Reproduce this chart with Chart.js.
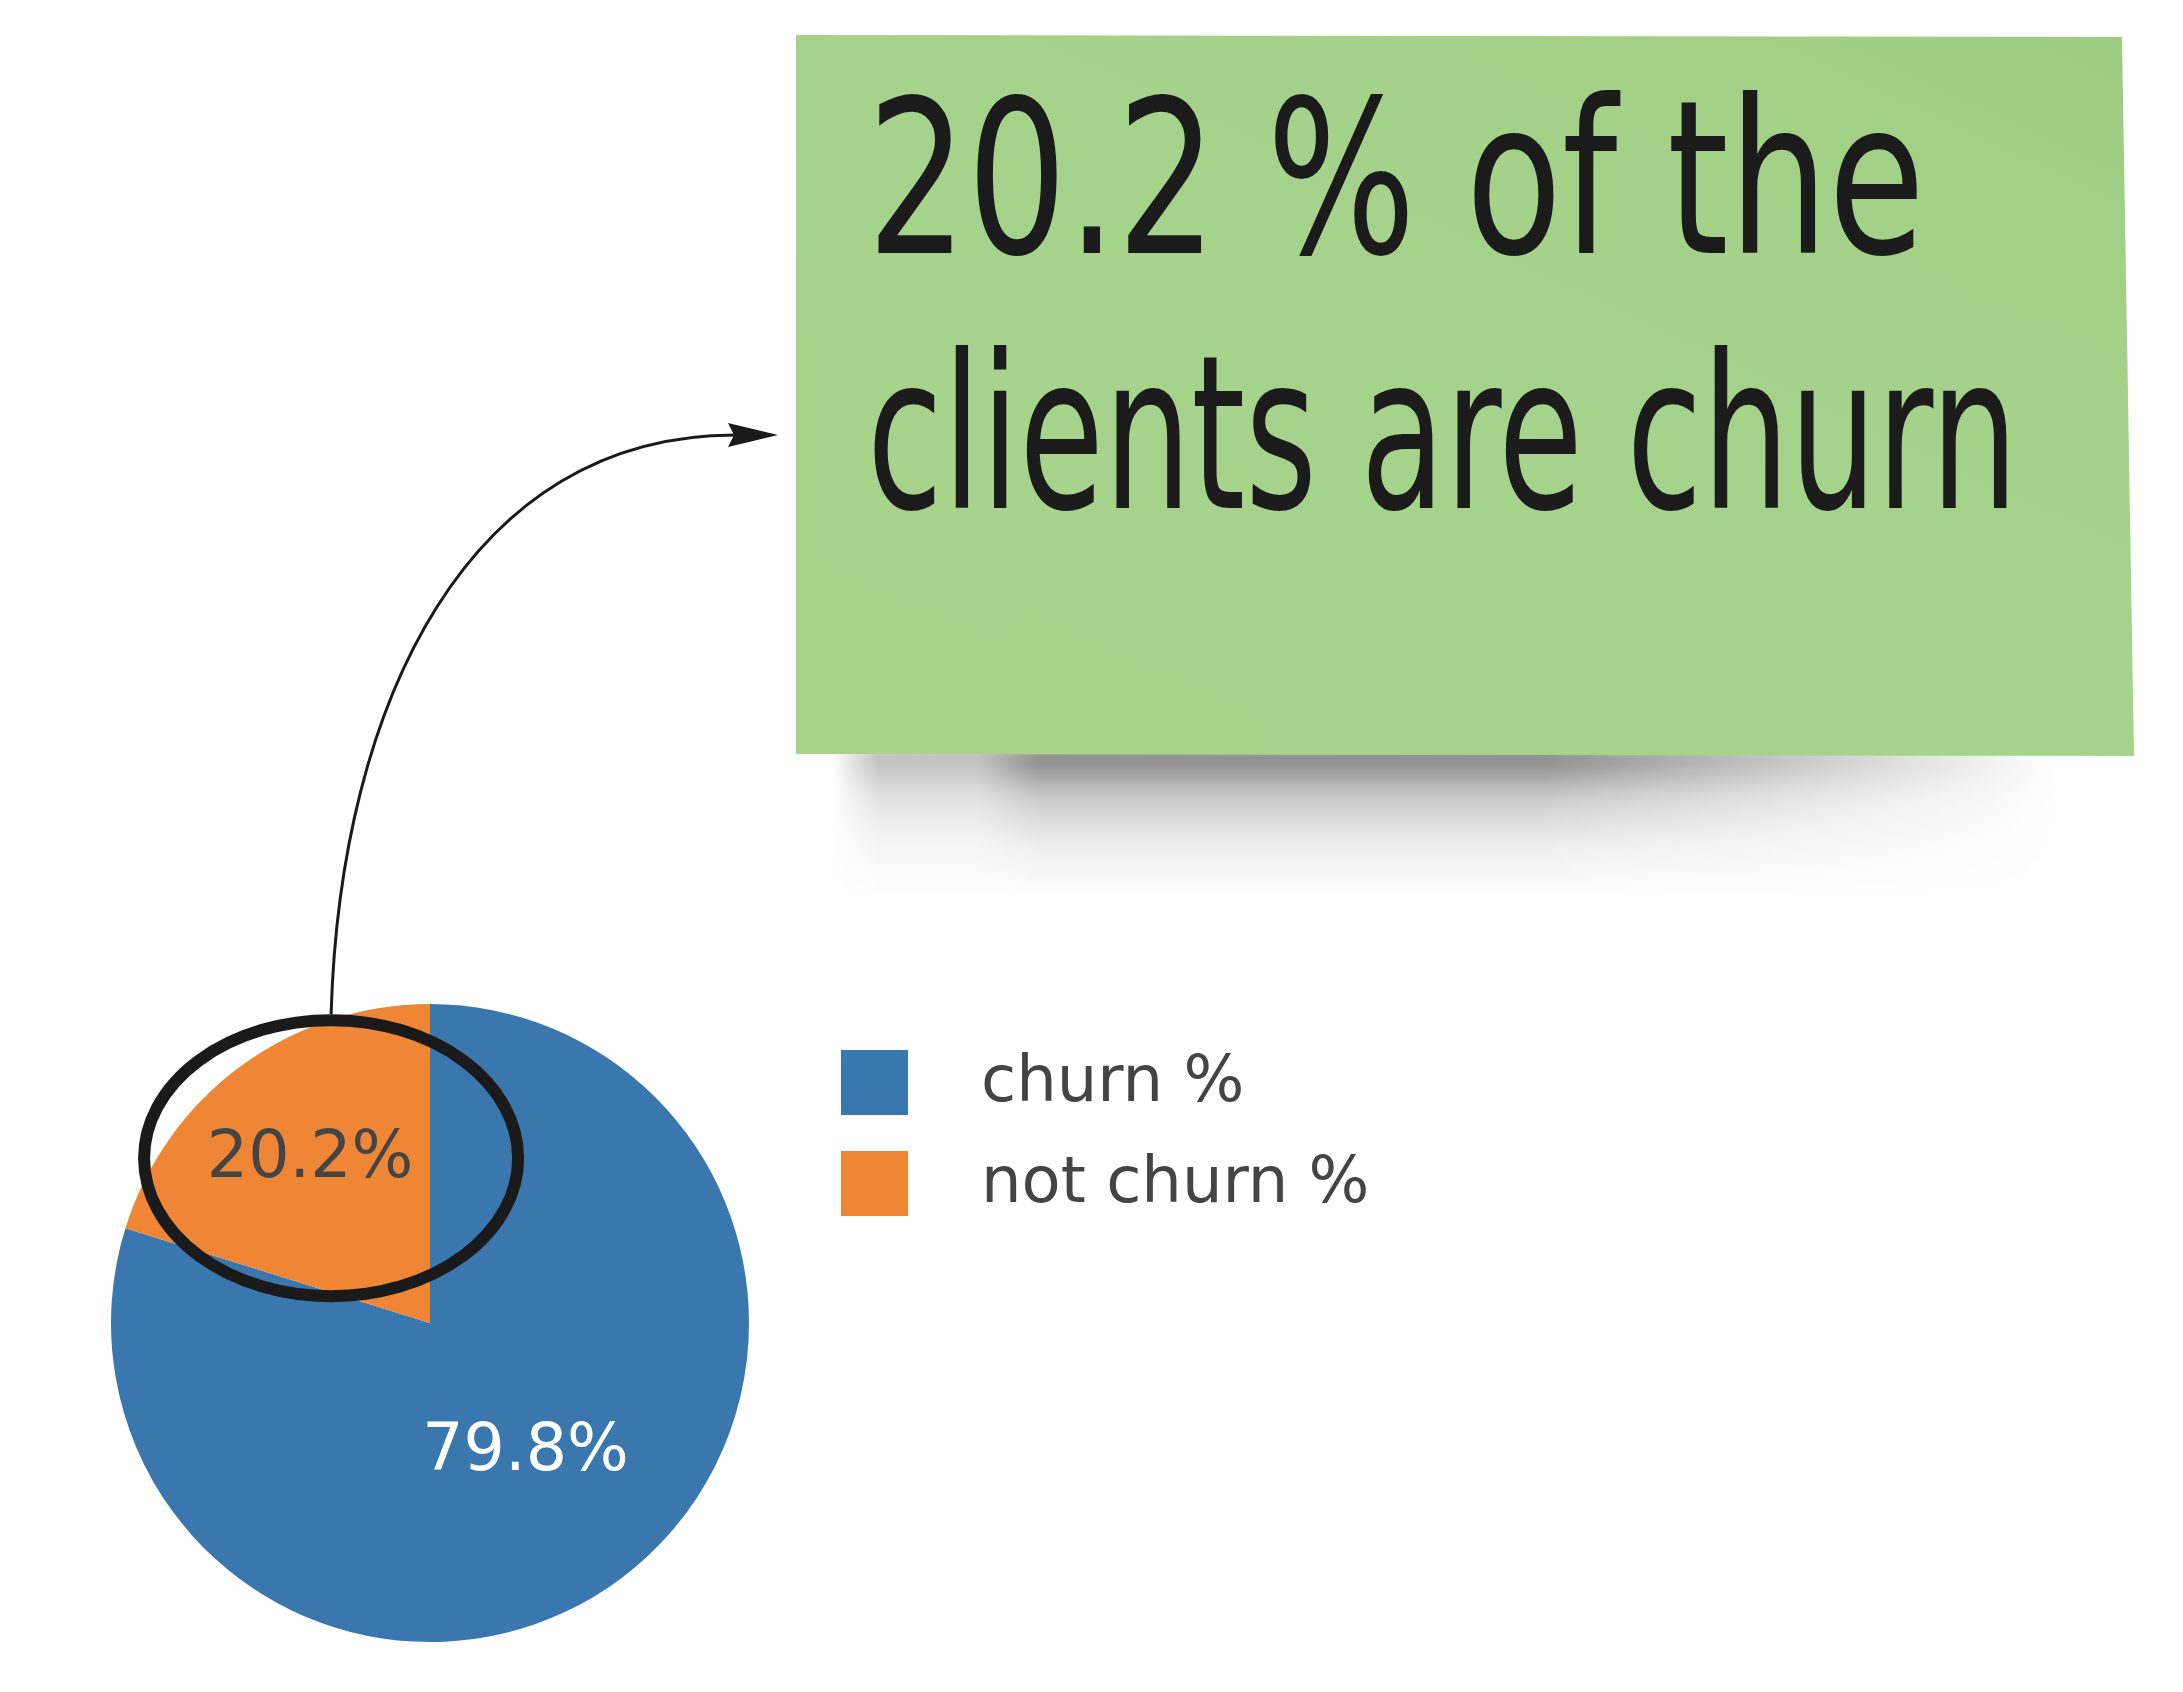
<!DOCTYPE html>
<html>
<head>
<meta charset="utf-8">
<script src="https://cdn.jsdelivr.net/npm/chart.js@4.4.1/dist/chart.umd.min.js"></script>
<style>
  html, body { margin: 0; padding: 0; background: #fff; }
  body { width: 2183px; height: 1692px; position: relative; overflow: hidden; }
  #pie { position: absolute; left: 0; top: 0; z-index: 1; }
  .shadow { position: absolute; z-index: 2; pointer-events: none;
    left: 830px; top: 745px; width: 1230px; height: 150px;
    background: linear-gradient(to bottom, rgba(0,0,0,0.5) 0%, rgba(0,0,0,0.42) 14%,
      rgba(0,0,0,0.2) 35%, rgba(0,0,0,0.07) 65%, rgba(0,0,0,0) 100%);
    -webkit-mask-image: linear-gradient(to right, rgba(0,0,0,0) 0%, rgba(0,0,0,0.55) 4%,
      rgba(0,0,0,0.55) 12%, #000 17%, #000 58%, rgba(0,0,0,0.45) 80%, rgba(0,0,0,0) 100%);
    mask-image: linear-gradient(to right, rgba(0,0,0,0) 0%, rgba(0,0,0,0.55) 4%,
      rgba(0,0,0,0.55) 12%, #000 17%, #000 58%, rgba(0,0,0,0.45) 80%, rgba(0,0,0,0) 100%);
    filter: blur(8px); }
  .note { position: absolute; z-index: 3; left: 796px; top: 35px; width: 1338px; height: 721px;
    background: linear-gradient(205deg, #9dcb81 0%, #a3d087 15%, #a6d38b 45%, #a7d38b 100%);
    clip-path: polygon(0 0, 1326px 2px, 1338px 721px, 0 719px); }
  #noteText { position: absolute; z-index: 4; left: 0; top: 0; pointer-events: none; }
</style>
</head>
<body>
<canvas id="pie" width="2183" height="1692"></canvas>
<div class="shadow"></div>
<div class="note"></div>
<svg id="noteText" width="2183" height="1692">
  <text x="867" y="253" textLength="1058" lengthAdjust="spacingAndGlyphs"
        font-family="'Liberation Sans Narrow', 'DejaVu Sans Condensed', sans-serif"
        font-size="214" fill="#1b1b1b">20.2 % of the</text>
  <text x="867" y="508" textLength="1151" lengthAdjust="spacingAndGlyphs"
        font-family="'Liberation Sans Narrow', 'DejaVu Sans Condensed', sans-serif"
        font-size="214" fill="#1b1b1b">clients are churn</text>
</svg>
<script>
// pie values (share of clients, %)
const labels = ["churn %", "not churn %"];
const shares = [79.8, 20.2];
const sliceColors = ["#3a77af", "#ef8636"];
const textColors = ["#ffffff", "#444444"];
const labelRadius = [0.505, 0.634];

// percent text inside each slice
const sliceLabels = {
  id: "sliceLabels",
  afterDatasetsDraw(chart) {
    const ctx = chart.ctx;
    const arcs = chart.getDatasetMeta(0).data;
    ctx.save();
    ctx.font = "65px 'DejaVu Sans'";
    ctx.textAlign = "center";
    ctx.textBaseline = "middle";
    arcs.forEach((arc, i) => {
      const { x, y, startAngle, endAngle, outerRadius } = arc.getProps(
        ["x", "y", "startAngle", "endAngle", "outerRadius"], true);
      const mid = (startAngle + endAngle) / 2;
      const r = outerRadius * labelRadius[i];
      ctx.fillStyle = textColors[i];
      ctx.fillText(shares[i].toFixed(1) + "%", x + Math.cos(mid) * r, y + Math.sin(mid) * r);
    });
    ctx.restore();
  },
};

// plotly-like legend to the right of the pie
const sideLegend = {
  id: "sideLegend",
  afterDraw(chart) {
    const ctx = chart.ctx;
    const colors = chart.data.datasets[0].backgroundColor;
    ctx.save();
    ctx.font = "64px 'DejaVu Sans'";
    ctx.textBaseline = "middle";
    chart.data.labels.forEach((lab, i) => {
      const top = 1050 + i * 101;
      ctx.fillStyle = colors[i];
      ctx.fillRect(841, top, 67, 65);
      ctx.fillStyle = "#444444";
      ctx.fillText(lab, 981, top + 34);
    });
    ctx.restore();
  },
};

// hand-drawn ellipse round the small slice and the arrow to the note
const callout = {
  id: "callout",
  afterDraw(chart) {
    const ctx = chart.ctx;
    const arc = chart.getDatasetMeta(0).data[1];
    const { x, y, startAngle, endAngle, outerRadius } = arc.getProps(
      ["x", "y", "startAngle", "endAngle", "outerRadius"], true);
    const mid = (startAngle + endAngle) / 2;
    const cx = x + Math.cos(mid) * outerRadius * labelRadius[1] + 21;
    const cy = y + Math.sin(mid) * outerRadius * labelRadius[1] - 2;
    const rx = 187, ry = 138;

    ctx.save();
    ctx.strokeStyle = "#1a1a1a";
    ctx.lineWidth = 12;
    ctx.beginPath();
    ctx.ellipse(cx, cy, rx, ry, 0, 0, Math.PI * 2);
    ctx.stroke();

    const sx = cx, sy = cy - ry - 6;
    const tipX = 778, tipY = 435;
    ctx.lineWidth = 3;
    ctx.beginPath();
    ctx.moveTo(sx, sy);
    ctx.bezierCurveTo(sx + 9, 700, 470, tipY, 735, tipY);
    ctx.stroke();

    ctx.fillStyle = "#1a1a1a";
    ctx.beginPath();
    ctx.moveTo(tipX, tipY);
    ctx.lineTo(tipX - 50, tipY - 12);
    ctx.lineTo(tipX - 44, tipY);
    ctx.lineTo(tipX - 50, tipY + 12);
    ctx.closePath();
    ctx.fill();
    ctx.restore();
  },
};

new Chart(document.getElementById("pie"), {
  type: "pie",
  data: {
    labels: labels,
    datasets: [
      {
        data: shares,
        backgroundColor: sliceColors,
        borderWidth: 0,
        hoverOffset: 0,
        offset: 0,
      },
    ],
  },
  options: {
    responsive: false,
    animation: false,
    events: [],
    layout: {
      padding: { left: 111, top: 1004, right: 1434, bottom: 50 },
    },
    plugins: {
      legend: { display: false },
      tooltip: { enabled: false },
    },
  },
  plugins: [sliceLabels, sideLegend, callout],
});
</script>
</body>
</html>
